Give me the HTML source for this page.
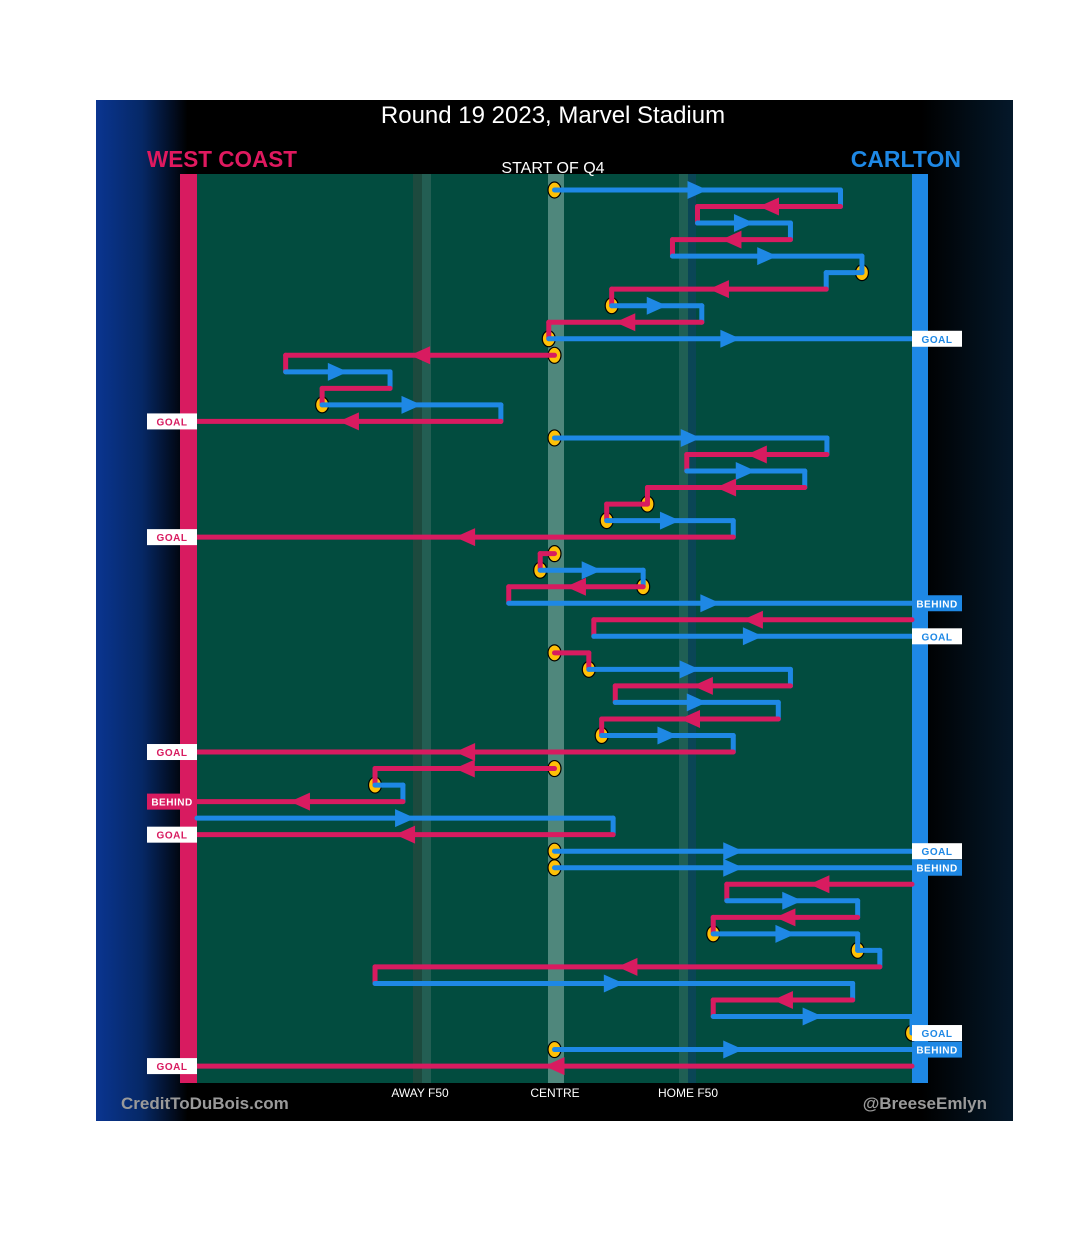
<!DOCTYPE html>
<html><head><meta charset="utf-8"><style>
html,body{margin:0;padding:0;background:#fff;width:1080px;height:1235px;overflow:hidden}
svg text{font-family:"Liberation Sans",sans-serif}
</style></head><body>
<svg id="chart" width="1080" height="1235" viewBox="0 0 1080 1235" xmlns="http://www.w3.org/2000/svg">
<defs>
<linearGradient id="lg" x1="0" x2="1" y1="0" y2="0">
<stop offset="0" stop-color="#0a3590"/><stop offset="0.05" stop-color="#062866"/><stop offset="0.1" stop-color="#000"/><stop offset="0.9" stop-color="#000"/><stop offset="1" stop-color="#04182a"/>
</linearGradient>
</defs>
<rect x="96" y="100" width="917" height="1021" fill="url(#lg)"/>
<rect x="197" y="174" width="715" height="909" fill="#024c3f"/>
<rect x="413" y="174" width="9" height="909" fill="#1d4a3e"/>
<rect x="422" y="174" width="9" height="909" fill="#235e53"/>
<rect x="548" y="174" width="16" height="909" fill="#4f877c"/>
<rect x="679" y="174" width="9" height="909" fill="#1f5f54"/>
<rect x="688" y="174" width="8" height="909" fill="#0a4656"/>
<rect x="180" y="174" width="17" height="909" fill="#d81b60"/>
<rect x="912" y="174" width="16" height="909" fill="#1e88e5"/>
<text x="553" y="123" fill="#fff" font-size="24" text-anchor="middle">Round 19 2023, Marvel Stadium</text>
<text x="147" y="167" fill="#e0195f" font-size="23" font-weight="bold" textLength="150" lengthAdjust="spacingAndGlyphs">WEST COAST</text>
<text x="961" y="167" fill="#1e88e5" font-size="23" font-weight="bold" text-anchor="end">CARLTON</text>
<text x="553" y="173" fill="#fff" font-size="16" text-anchor="middle">START OF Q4</text>
<text x="420" y="1097" fill="#fff" font-size="12" text-anchor="middle">AWAY F50</text>
<text x="555" y="1097" fill="#fff" font-size="12" text-anchor="middle">CENTRE</text>
<text x="688" y="1097" fill="#fff" font-size="12" text-anchor="middle">HOME F50</text>
<text x="121" y="1109" fill="#9a9a9a" font-size="17" font-weight="bold">CreditToDuBois.com</text>
<text x="987" y="1109" fill="#9a9a9a" font-size="17" font-weight="bold" text-anchor="end">@BreeseEmlyn</text>
<g id="marks"></g>
</svg>
<script>
// team per row: W = West Coast (pink, kicks left), C = Carlton (blue, kicks right)
const teams = ['C','W','C','W','C','C','W','C','W','C','W','C','W','C','W','C','W','C','W','W','C','W','W','C','W','C','W','C','W','C','W','C','W','C','W','W','C','W','C','W','C','C','W','C','W','C','C','W','C','W','C','C','C','W'];
// field position (0 = West Coast goal, 100 = Carlton goal)
const startPos = [50,90,70,83,66.5,93,88,58,70.6,49.2,50,12.4,27,17.5,42.5,50,88.1,68.5,85,63,57.3,75,50,48,62.4,43.6,100,55.5,50,54.8,83,58.5,81.3,56.6,75,50,24.9,28.8,0,58.2,50,50,100,74.1,92.4,72.2,92.4,95.5,24.9,91.7,72.2,100,50,100];
const endPos   = [90,70,83,66.5,93,88,58,70.6,49.2,100,12.4,27,17.5,42.5,0,88.1,68.5,85,63,57.3,75,0,48,62.4,43.6,100,55.5,100,54.8,83,58.5,81.3,56.6,75,0,24.9,28.8,0,58.2,0,100,100,74.1,92.4,72.2,92.4,95.5,24.9,91.7,72.2,100,100,100,0];
const circles  = [1,0,0,0,0,1,0,1,0,1,1,0,0,1,0,1,0,0,0,1,1,0,1,1,1,0,0,0,1,1,0,0,0,1,0,1,1,0,0,0,1,1,0,0,0,1,1,0,0,0,0,1,1,0];
const results  = ['','','','','','','','','','GOAL','','','','','GOAL','','','','','','','GOAL','','','','BEHIND','','GOAL','','','','','','','GOAL','','','BEHIND','','GOAL','GOAL','BEHIND','','','','','','','','','','GOAL','BEHIND','GOAL'];

const NS='http://www.w3.org/2000/svg';
const g=document.getElementById('marks');
const X=u=>197+u*7.15;
const Y=k=>190+k*16.53;
const col={W:'#d81b60',C:'#1e88e5'};
function mk(t,a){const e=document.createElementNS(NS,t);for(const k in a)e.setAttribute(k,a[k]);g.appendChild(e);return e;}
for(let i=0;i<teams.length;i++){
  if(circles[i]){
    const c=mk('ellipse',{cx:X(startPos[i]),cy:Y(i),rx:6.5,ry:8,fill:'#ffc107',stroke:'#000','stroke-width':1.2});
    
    
  }
}
for(let i=0;i<teams.length;i++){
  const x0=X(startPos[i]),x1=X(endPos[i]),y=Y(i),c=col[teams[i]];
  const l=mk('line',{x1:x0,y1:y,x2:x1,y2:y,stroke:c,'stroke-width':5,'stroke-linecap':'round'});
  
  
  if(i+1<teams.length && !results[i] && Math.abs(startPos[i+1]-endPos[i])<0.6){
    const v=mk('line',{x1:x1,y1:y,x2:x1,y2:Y(i+1),stroke:c,'stroke-width':5,'stroke-linecap':'round'});
    
    
  }
  if(Math.abs(x1-x0)>80){
    const m=(x0+x1)/2,d=x1>x0?1:-1;
    const p=mk('polygon',{points:`${m+d*10},${y} ${m-d*10},${y-9} ${m-d*10},${y+9}`,fill:c});
    
    
  }
  if(results[i]){
    const left=endPos[i]<50, bx=left?147:912;
    const goal=results[i]==='GOAL';
    const r=mk('rect',{x:bx,y:y-8,width:50,height:16,fill:goal?'#fff':c});
    
    
    const t=mk('text',{x:bx+25,y:y+4,'text-anchor':'middle','font-size':10,'font-weight':'bold',fill:goal?c:'#fff','letter-spacing':'0.5'});
    t.textContent=results[i];
    
    
  }
}
</script>
</body></html>
